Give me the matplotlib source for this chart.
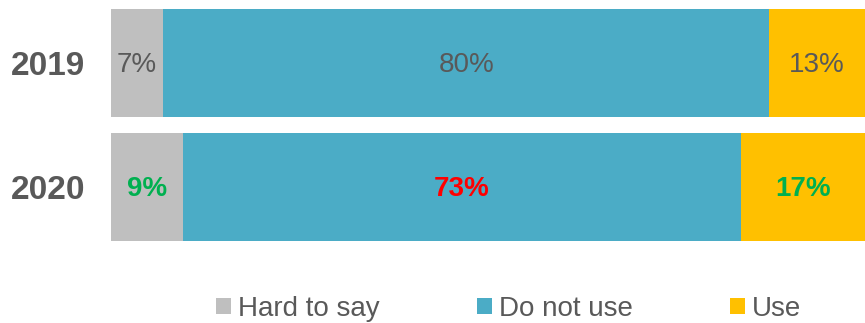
import matplotlib.pyplot as plt
from matplotlib.patches import Patch

plt.rcParams['font.family'] = ['Liberation Sans', 'DejaVu Sans']

years = ['2019', '2020']
categories = ['Hard to say', 'Do not use', 'Use']
# bar widths, labels as printed
values_2019 = [6.9, 80.4, 12.7]
values_2020 = [9.5, 74.1, 16.4]
labels_2019 = ['7%', '80%', '13%']
labels_2020 = ['9%', '73%', '17%']

colors = ['#BFBFBF', '#4BACC6', '#FFC000']
text_2019 = ['#595959', '#595959', '#595959']
text_2020 = ['#00B050', '#FF0000', '#00B050']

fig = plt.figure(figsize=(8.65, 3.23), dpi=100)
ax = fig.add_axes([111 / 865, 1 - 241 / 323, 1 - 111 / 865, (241 - 9) / 323])

rows = [(values_2019, labels_2019, text_2019, False),
        (values_2020, labels_2020, text_2020, True)]
for i, (vals, labs, tcols, bold) in enumerate(rows):
    left = 0
    for v, lab, c, tc in zip(vals, labs, colors, tcols):
        ax.barh(i, v, left=left, height=0.871, color=c, edgecolor='none')
        ax.text(left + v / 2, i + 0.016, lab, ha='center', va='center', fontsize=20,
                color=tc, fontweight='bold' if bold else 'normal')
        left += v

ax.set_xlim(0, sum(values_2019))
ax.set_ylim(1.4355, -0.4355)
ax.set_yticks(range(len(years)))
ax.set_yticklabels(years, fontsize=24, fontweight='bold', color='#595959')
ax.tick_params(axis='y', length=0, pad=18.5)
ax.set_xticks([])
for s in ax.spines.values():
    s.set_visible(False)

handles = [Patch(facecolor=c, edgecolor='none') for c in colors]
fig.legend(handles, categories, loc='center', bbox_to_anchor=(509 / 865, 1 - 309 / 323),
           ncol=3, frameon=False, fontsize=20, labelcolor='#595959',
           handlelength=0.54, handleheight=0.54, handletextpad=0.25, columnspacing=3.5)

fig.savefig('out.png', dpi=100)
